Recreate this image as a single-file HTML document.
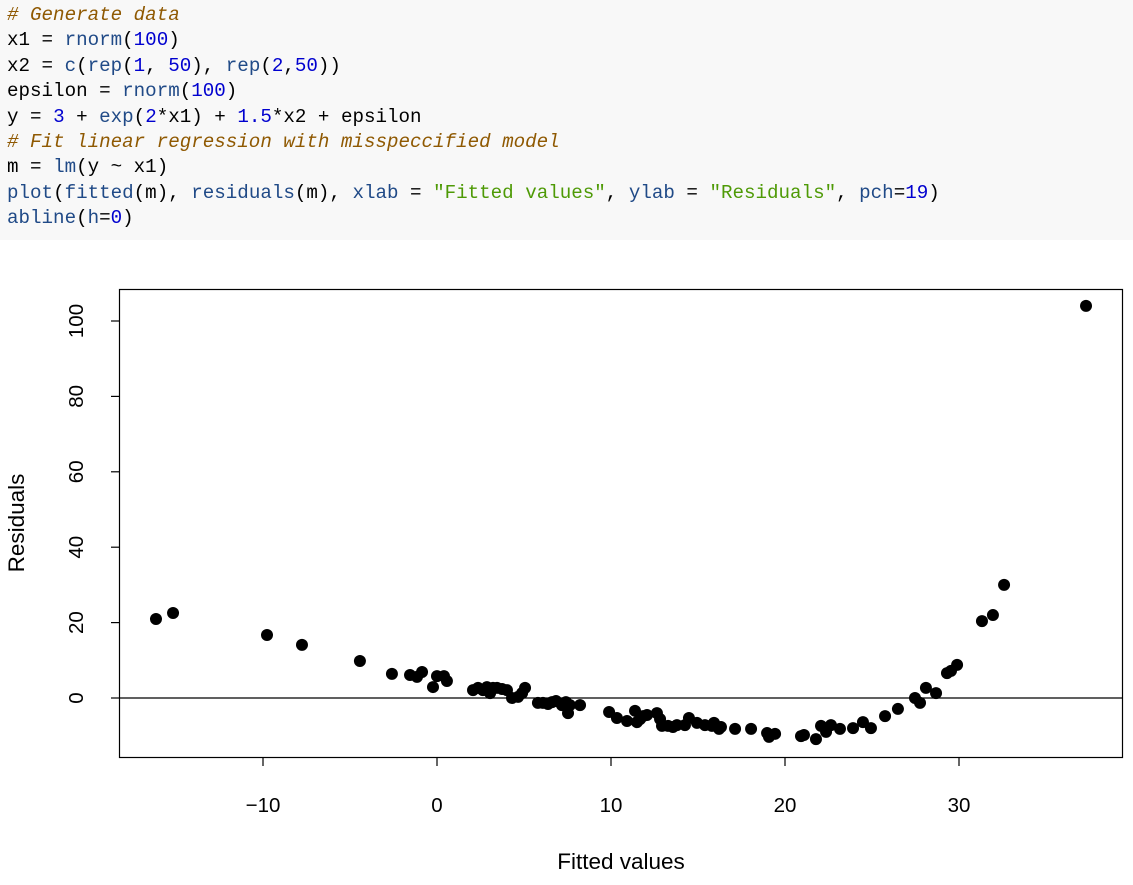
<!DOCTYPE html>
<html><head><meta charset="utf-8"><style>
body{margin:0;width:1133px;height:885px;background:#fff;overflow:hidden;font-family:"Liberation Sans",sans-serif}
#code{position:absolute;left:0;top:0;width:1133px;height:240px;background:#f8f8f8;margin:0;padding:0}
#code pre{margin:0;position:absolute;left:7px;top:3px;font-family:"Liberation Mono",monospace;font-size:19.2px;line-height:25.4px;color:#000}
.c{color:#8f5902;font-style:italic}.f{color:#204a87}.n{color:#0000cf}.s{color:#4e9a06}
svg{position:absolute;left:0;top:0}
</style></head><body>
<div id="code"><pre><span class="c"># Generate data</span>
x1 = <span class="f">rnorm</span>(<span class="n">100</span>)
x2 = <span class="f">c</span>(<span class="f">rep</span>(<span class="n">1</span>, <span class="n">50</span>), <span class="f">rep</span>(<span class="n">2</span>,<span class="n">50</span>))
epsilon = <span class="f">rnorm</span>(<span class="n">100</span>)
y = <span class="n">3</span> + <span class="f">exp</span>(<span class="n">2</span>*x1) + <span class="n">1.5</span>*x2 + epsilon
<span class="c"># Fit linear regression with misspeccified model</span>
m = <span class="f">lm</span>(y ~ x1)
<span class="f">plot</span>(<span class="f">fitted</span>(m), <span class="f">residuals</span>(m), <span class="f">xlab</span> = <span class="s">"Fitted values"</span>, <span class="f">ylab</span> = <span class="s">"Residuals"</span>, <span class="f">pch</span>=<span class="n">19</span>)
<span class="f">abline</span>(<span class="f">h</span>=<span class="n">0</span>)</pre></div>
<svg id="chart" width="1133" height="885"></svg>
<script>
const fittedVals=[-16.15,-15.17,-9.77,-7.76,-4.43,-2.59,-1.55,-1.15,-0.86,-0.23,0,0.40,0.57,2.07,2.36,2.64,2.87,3.05,3.22,3.45,3.74,4.02,4.31,4.66,4.89,5.06,5.80,6.09,6.38,6.61,6.84,7.18,7.41,7.53,7.64,8.22,9.89,10.34,10.92,11.38,11.49,11.67,11.84,12.07,12.64,12.82,12.93,13.28,13.56,13.79,14.25,14.48,14.94,15.40,15.80,15.92,16.21,16.32,17.13,18.05,18.97,19.08,19.43,20.92,21.09,21.78,22.07,22.36,22.64,23.16,23.91,24.48,24.94,25.75,26.49,27.47,27.76,28.10,28.68,29.31,29.54,29.89,31.32,31.95,32.59,37.30];
const residVals=[20.95,22.55,16.7,14.1,9.8,6.4,6.1,5.6,6.9,2.9,5.8,5.8,4.5,2.1,2.7,2.1,2.9,1.3,2.7,2.7,2.4,2.1,0,0.3,1.3,2.7,-1.3,-1.3,-1.6,-1.1,-0.8,-1.9,-1.1,-4.0,-1.9,-1.9,-3.7,-5.3,-6.1,-3.4,-6.4,-5.6,-4.8,-4.5,-4.0,-5.6,-7.4,-7.4,-7.7,-7.2,-7.2,-5.3,-6.6,-7.2,-7.4,-6.6,-8.2,-7.7,-8.2,-8.2,-9.3,-10.3,-9.5,-10.1,-9.8,-10.9,-7.4,-9.0,-7.2,-8.2,-8.0,-6.4,-8.0,-4.8,-2.9,0,-1.3,2.7,1.3,6.6,7.2,8.8,20.4,22.0,30.0,104.0];
const xTicks=[-10,0,10,20,30];
const yTicks=[0,20,40,60,80,100];
const NS="http://www.w3.org/2000/svg";
const svg=document.getElementById('chart');
const sx=v=>437+v*17.4, sy=v=>698-v*3.77;
function mk(t,a,txt){const e=document.createElementNS(NS,t);for(const k in a)e.setAttribute(k,a[k]);if(txt!=null)e.textContent=txt;svg.appendChild(e);return e;}
let e=mk('rect',{x:119.5,y:289.5,width:1003,height:468,fill:'none',stroke:'#000','stroke-width':1.2});


e=mk('line',{x1:119.5,x2:1122.5,y1:sy(0),y2:sy(0),stroke:'#000','stroke-width':1.3});


xTicks.forEach(t=>{
 e=mk('line',{x1:sx(t),x2:sx(t),y1:758,y2:766,stroke:'#000','stroke-width':1.2});
 
 
 e=mk('text',{x:sx(t),y:812,'text-anchor':'middle','font-size':20.5,'font-family':'Liberation Sans, sans-serif'},t<0?'\u2212'+(-t):String(t));
 
 
});
yTicks.forEach(t=>{
 e=mk('line',{x1:111,x2:119.5,y1:sy(t),y2:sy(t),stroke:'#000','stroke-width':1.2});
 
 
 e=mk('text',{x:0,y:0,transform:`translate(83,${sy(t)}) rotate(-90)`,'text-anchor':'middle','font-size':20.5,'font-family':'Liberation Sans, sans-serif'},String(t));
 
 
});
e=mk('text',{x:621,y:869,'text-anchor':'middle','font-size':22.5,'font-family':'Liberation Sans, sans-serif'},'Fitted values');


e=mk('text',{x:0,y:0,transform:'translate(24,523) rotate(-90)','text-anchor':'middle','font-size':22.5,'font-family':'Liberation Sans, sans-serif'},'Residuals');


fittedVals.forEach((v,i)=>{
 e=mk('circle',{cx:sx(v),cy:sy(residVals[i]),r:6,fill:'#000'});
 
 
});
</script>
</body></html>
